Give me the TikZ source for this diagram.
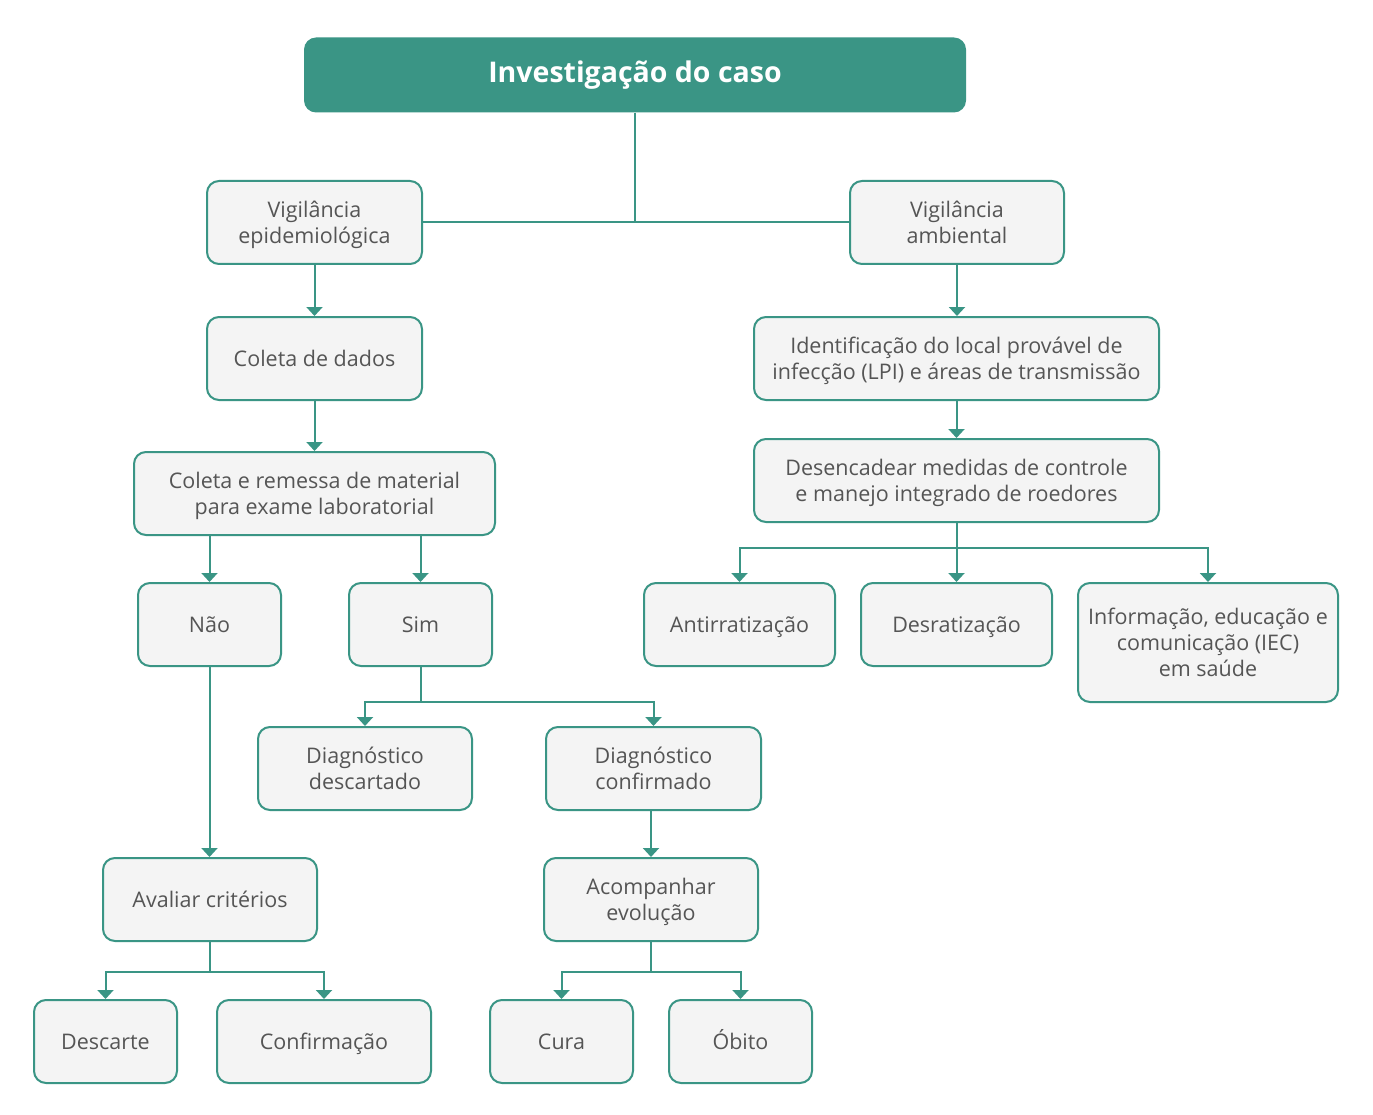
\documentclass[tikz,border=0pt]{standalone}
\usepackage{fontspec}
\setmainfont{Open Sans}
\usetikzlibrary{arrows.meta, calc}
\definecolor{verde}{HTML}{3A9585}
\definecolor{fundo}{HTML}{F4F4F4}
\definecolor{texto}{HTML}{555555}
\begin{document}
\begin{tikzpicture}[x=1pt, y=-1pt,
	caixa/.style={draw=verde, fill=fundo, line width=2pt, rounded corners=12pt, text=texto,
		align=center, inner sep=0pt, minimum height=83pt, font=\fontsize{21.5}{26}\selectfont,
		execute at begin node={\rule{0pt}{#1}}, execute at end node=\strut},
	caixa/.default=24pt,
	liga/.style={draw=verde, line width=2pt},
	seta/.style={liga, -{Triangle[width=16pt, length=9pt]}}]
	\fill[white] (0,0) rectangle (1373,1115);
	\useasboundingbox (0,0) rectangle (1373,1115);
	% topo
	\node [fill=verde, rounded corners=12pt, minimum width=662pt, minimum height=75pt, text=white,
		font=\fontsize{28.5}{34}\selectfont\bfseries] (caso) at (635,75) {Investigação do caso};
	\node [caixa=50pt, minimum width=215pt] (epid) at (314.5,222.5) {Vigilância\\epidemiológica};
	\node [caixa=50pt, minimum width=214pt] (amb) at (957,222.5) {Vigilância\\ambiental};
	% ramo epidemiologico
	\node [caixa, minimum width=215pt] (dados) at (314.5,358.5) {Coleta de dados};
	\node [caixa=50pt, minimum width=361pt] (remessa) at (314.5,493.5) {Coleta e remessa de material\\para exame laboratorial};
	\node [caixa, minimum width=143pt] (nao) at (209.5,624.5) {Não};
	\node [caixa, minimum width=143pt] (sim) at (420.5,624.5) {Sim};
	\node [caixa=50pt, minimum width=214pt] (descartado) at (365,768.5) {Diagnóstico\\descartado};
	\node [caixa=50pt, minimum width=215pt] (confirmado) at (653.5,768.5) {Diagnóstico\\confirmado};
	\node [caixa=50pt, minimum width=214pt] (evolucao) at (651,899.5) {Acompanhar\\evolução};
	\node [caixa, minimum width=214pt] (criterios) at (210,899.5) {Avaliar critérios};
	\node [caixa, minimum width=143pt] (descarte) at (105.5,1041.5) {Descarte};
	\node [caixa, minimum width=214pt] (confirmacao) at (324,1041.5) {Confirmação};
	\node [caixa, minimum width=143pt] (cura) at (561.5,1041.5) {Cura};
	\node [caixa, minimum width=143pt] (obito) at (740.5,1041.5) {Óbito};
	% ramo ambiental
	\node [caixa=50pt, minimum width=405pt] (lpi) at (956.5,358.5) {Identificação do local provável de\\infecção (LPI) e áreas de transmissão};
	\node [caixa=50pt, minimum width=405pt] (medidas) at (956.5,480.5) {Desencadear medidas de controle\\e manejo integrado de roedores};
	\node [caixa, minimum width=191pt] (antir) at (739.5,624.5) {Antirratização};
	\node [caixa, minimum width=191pt] (desrat) at (956.5,624.5) {Desratização};
	\node [caixa=76pt, minimum width=260pt, minimum height=119pt] (iec) at (1208,642.5) {Informação, educação e\\comunicação (IEC)\\em saúde};
	% ligacoes
	\coordinate (simfork) at (420.5,702);
	\coordinate (critfork) at (210,972);
	\coordinate (evolfork) at (651,972);
	\coordinate (medfork) at (956.5,548);
	\draw [liga] (caso.south) -- (caso.south |- epid.east);
	\draw [liga] (epid.east) -- (amb.west);
	\draw [seta] (epid.south) -- (dados.north);
	\draw [seta] (dados.south) -- (remessa.north);
	\draw [seta] (nao.north |- remessa.south) -- (nao.north);
	\draw [seta] (sim.north |- remessa.south) -- (sim.north);
	\draw [liga] (sim.south) -- (simfork);
	\draw [seta] (simfork) -| (descartado.north);
	\draw [seta] (simfork) -| (confirmado.north);
	\draw [seta] (evolucao.north |- confirmado.south) -- (evolucao.north);
	\draw [seta] (nao.south) -- (nao.south |- criterios.north);
	\draw [liga] (criterios.south) -- (critfork);
	\draw [seta] (critfork) -| (descarte.north);
	\draw [seta] (critfork) -| (confirmacao.north);
	\draw [liga] (evolucao.south) -- (evolfork);
	\draw [seta] (evolfork) -| (cura.north);
	\draw [seta] (evolfork) -| (obito.north);
	\draw [seta] (amb.south) -- (amb.south |- lpi.north);
	\draw [seta] (lpi.south) -- (medidas.north);
	\draw [liga] (medidas.south) -- (medfork);
	\draw [seta] (medfork) -| (antir.north);
	\draw [seta] (medfork) -- (desrat.north);
	\draw [seta] (medfork) -| (iec.north);
\end{tikzpicture}
\end{document}
